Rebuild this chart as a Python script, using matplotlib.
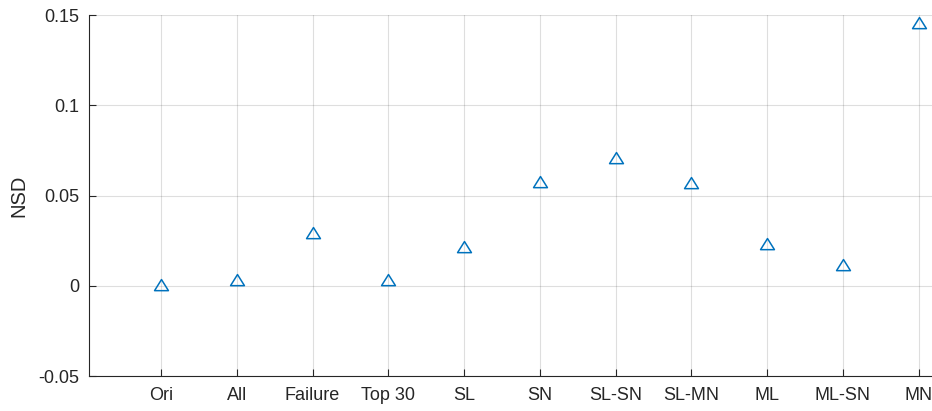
import matplotlib
matplotlib.use("Agg")
import matplotlib.pyplot as plt
from matplotlib.path import Path

categories = ["Ori", "All", "Failure", "Top 30", "SL", "SN", "SL-SN", "SL-MN", "ML", "ML-SN", "MN"]
nsd = [0.0, 0.0024, 0.0286, 0.0024, 0.021, 0.0569, 0.0702, 0.0563, 0.0225, 0.0111, 0.1448]
yticks = [-0.05, 0, 0.05, 0.1, 0.15]
ytick_labels = ["-0.05", "0", "0.05", "0.1", "0.15"]

W, H = 932, 411
fig = plt.figure(figsize=(W / 100, H / 100), dpi=100)
ax = fig.add_axes([89 / W, (H - 376) / H, (W - 89) / W + 0.01, (376 - 15) / H])

fam = ['Liberation Sans', 'DejaVu Sans']
plt.rcParams['font.family'] = fam
text_color = (0.15, 0.15, 0.15)

tri = Path([(0, 1.0), (-1, -0.6), (1, -0.6), (0, 1.0)], closed=True)
x = list(range(len(categories)))
ax.plot(x, nsd, linestyle='none', marker=tri, markersize=10,
        markerfacecolor='none', markeredgecolor='#0072BD', markeredgewidth=1.1)

ax.set_xlim(-0.951, 10.3)
ax.set_ylim(-0.05, 0.15)
ax.set_xticks(x)
ax.set_xticklabels(categories, family=fam)
ax.set_yticks(yticks)
ax.set_yticklabels(ytick_labels, family=fam)

ax.grid(True, color=(0.15, 0.15, 0.15), alpha=0.15, linewidth=0.8)
ax.set_axisbelow(True)
for s in ['top', 'right']:
    ax.spines[s].set_visible(False)
for s in ['left', 'bottom']:
    ax.spines[s].set_color(text_color)
    ax.spines[s].set_linewidth(0.8)

ax.tick_params(axis='both', direction='in', length=5, width=0.8, color=text_color,
               labelcolor=text_color, labelsize=13)
ax.tick_params(axis='x', pad=8)
ax.tick_params(axis='y', pad=7)

ax.set_ylabel("NSD", fontsize=14.5, color=text_color, labelpad=7, family=fam)

fig.savefig("out.png", dpi=100)
